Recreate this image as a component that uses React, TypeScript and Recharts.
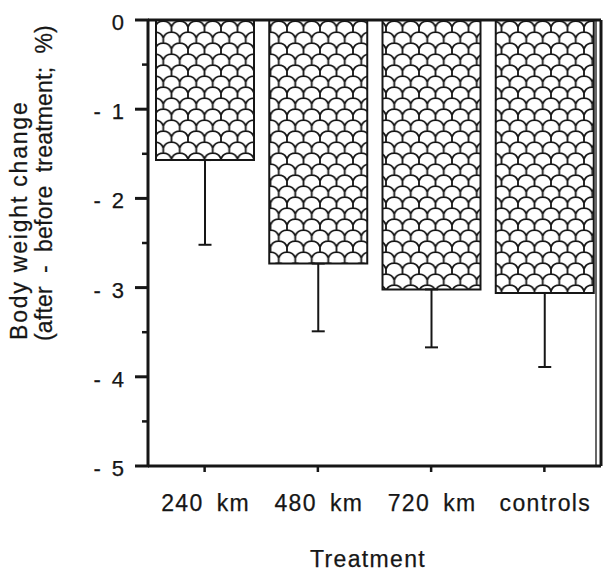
import React from 'react';
import { BarChart, Bar, XAxis, YAxis, ErrorBar, Customized } from 'recharts';

const categories = ['240 km', '480 km', '720 km', 'controls'];
const changeValues = [-1.57, -2.73, -3.02, -3.06];
const errorValues = [0.95, 0.76, 0.65, 0.83];
const yTicks = [0, -0.5, -1, -1.5, -2, -2.5, -3, -3.5, -4, -4.5, -5];
const rightTicks = [-0.5, -1, -1.5, -2, -2.5, -3, -3.5, -4, -4.5];
const yTickLabels: Record<string, string> = {
  '0': '0',
  '-1': '-\u20021',
  '-2': '-\u20022',
  '-3': '-\u20023',
  '-4': '-\u20024',
  '-5': '-\u20025',
};
const yTitleLines = ['Body weight change', '(after\u00a0 -\u00a0 before\u00a0 treatment;\u00a0 %)'];
const xTitle = 'Treatment';

const data = categories.map((c, i) => ({
  name: c,
  value: changeValues[i],
  err: [errorValues[i], 0],
}));

const INK = '#161616';
const FONT = '"Liberation Sans", Arial, Helvetica, sans-serif';

const LeftTick = (props: any) => {
  const { x, y, payload } = props;
  const v = payload.value as number;
  const major = Number.isInteger(v);
  const label = yTickLabels[String(v)];
  return (
    <g>
      <line x1={x + 1} x2={x - (major ? 13 : 6)} y1={y} y2={y} stroke={INK} strokeWidth={major ? 3 : 2.5} />
      {major && (
        <text x={124} y={y + 10} textAnchor="end" fontSize={22} fill={INK} fontFamily={FONT} stroke={INK} strokeWidth={0.25}>
          {label}
        </text>
      )}
    </g>
  );
};

const BottomTick = (props: any) => {
  const { x, y, payload } = props;
  const text = String(payload.value).replace(' ', '\u2002');
  return (
    <text x={x + 1} y={y + 39} textAnchor="middle" fontSize={23} letterSpacing={1.4} fill={INK} fontFamily={FONT} stroke={INK} strokeWidth={0.25}>
      {text}
    </text>
  );
};

const Titles = () => (
  <g>
    <line x1={596} x2={596} y1={20} y2={466} stroke={INK} strokeWidth={1.3} />
    <g fontFamily={FONT} fill={INK} fontSize={23} stroke={INK} strokeWidth={0.25}>
      <text x={27} y={340} transform="rotate(-90 27 340)" textAnchor="start" letterSpacing={1.8}>
        {yTitleLines[0]}
      </text>
      <text x={52} y={341} transform="rotate(-90 52 341)" textAnchor="start" letterSpacing={0.2}>
        {yTitleLines[1]}
      </text>
      <text x={310} y={567} textAnchor="start" letterSpacing={1.35}>
        {xTitle}
      </text>
    </g>
  </g>
);

export default function App() {
  return (
    <div style={{ position: 'absolute', left: 0, top: 0, width: 611, height: 572, background: '#fff' }}>
      <BarChart width={611} height={572} data={data} margin={{ top: 0, right: 0, bottom: 0, left: 0 }}>
        <defs>
          <pattern id="fishScale" patternUnits="userSpaceOnUse" x={155} y={20} width={16.5} height={22}>
            <rect x={0} y={0} width={16.5} height={22} fill="#fff" />
            <path
              d="M0,7 A8.7,8.7 0 0 1 16.5,7 M0,7 L0,12 M16.5,7 L16.5,12 M-8.25,18 A8.7,8.7 0 0 1 8.25,18 A8.7,8.7 0 0 1 24.75,18 M8.25,18 L8.25,23 M8.25,-1 L8.25,1"
              fill="none"
              stroke={INK}
              strokeWidth={1.8}
            />
          </pattern>
        </defs>
        <XAxis
          xAxisId="bottom"
          dataKey="name"
          orientation="bottom"
          height={106}
          interval={0}
          tickSize={6}
          tickMargin={0}
          tickLine={{ stroke: INK, strokeWidth: 2.5 }}
          axisLine={{ stroke: INK, strokeWidth: 3 }}
          tick={<BottomTick />}
        />
        <XAxis
          xAxisId="top"
          dataKey="name"
          orientation="top"
          height={20}
          interval={0}
          tickSize={5}
          tick={false}
          tickLine={{ stroke: INK, strokeWidth: 2.5 }}
          axisLine={{ stroke: INK, strokeWidth: 3 }}
        />
        <YAxis
          yAxisId="left"
          type="number"
          domain={[-5, 0]}
          ticks={yTicks}
          interval={0}
          width={148}
          tickSize={0}
          tickMargin={0}
          tickLine={false}
          axisLine={{ stroke: INK, strokeWidth: 3 }}
          tick={<LeftTick />}
          allowDataOverflow
        />
        <YAxis
          yAxisId="right"
          orientation="right"
          type="number"
          domain={[-5, 0]}
          ticks={rightTicks}
          interval={0}
          width={10}
          tickSize={5}
          tick={false}
          tickLine={{ stroke: INK, strokeWidth: 2.5 }}
          axisLine={{ stroke: INK, strokeWidth: 3 }}
          allowDataOverflow
        />
        <Bar
          xAxisId="bottom"
          yAxisId="left"
          dataKey="value"
          fill="url(#fishScale)"
          stroke={INK}
          strokeWidth={2}
          barSize={98}
          isAnimationActive={false}
        >
          <ErrorBar dataKey="err" direction="y" width={6.5} stroke={INK} strokeWidth={2} />
        </Bar>
        <Customized component={Titles} />
      </BarChart>
    </div>
  );
}
